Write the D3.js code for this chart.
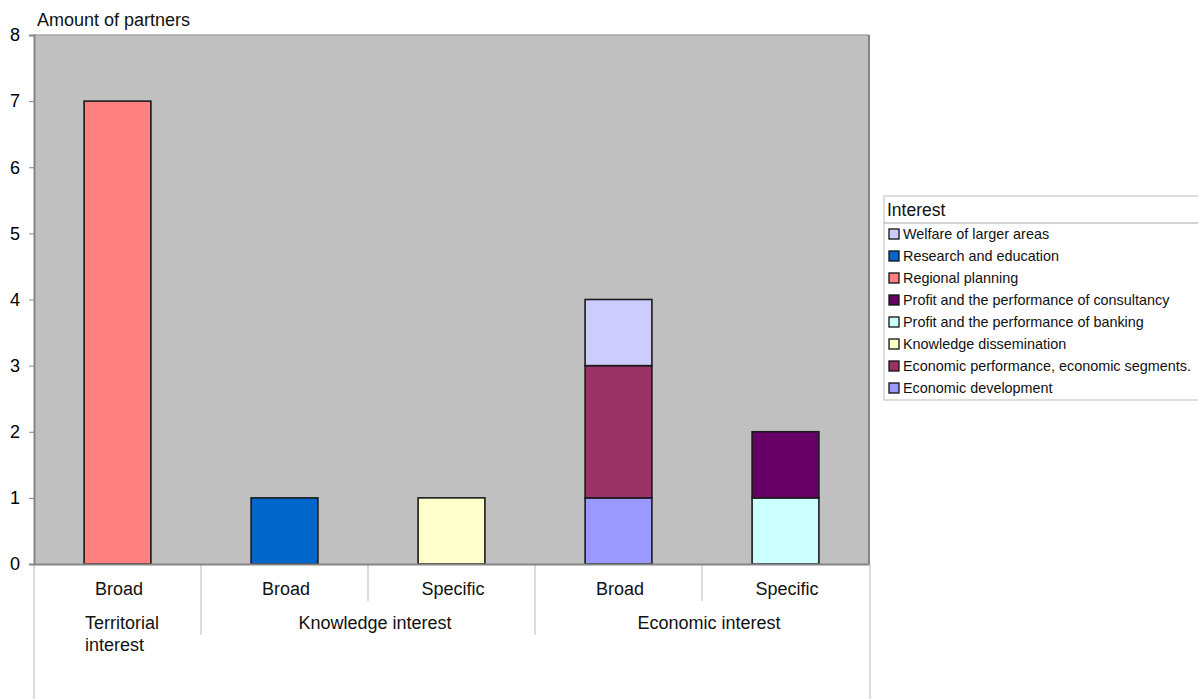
<!DOCTYPE html>
<html>
<head>
<meta charset="utf-8">
<script src="https://cdn.jsdelivr.net/npm/d3@7"></script>
<style>
  html, body { margin: 0; padding: 0; background: #fff; }
  svg { display: block; font-family: "Liberation Sans", Arial, sans-serif; }
</style>
</head>
<body>
<svg id="chart" width="1198" height="699"></svg>
<script>
// Sub-categories along the x axis, and the group each one belongs to
const categories = ["Broad", "Broad", "Specific", "Broad", "Specific"];
const groupNames = ["Territorial interest", "Knowledge interest", "Economic interest"];
const groupStart = [0, 1, 3];   // first sub-category index of each group
const groupSize  = [1, 2, 2];   // number of sub-categories in each group

// Series, bottom of stack first (legend lists them in reverse)
const seriesNames = [
  "Economic development",
  "Economic performance, economic segments.",
  "Knowledge dissemination",
  "Profit and the performance of banking",
  "Profit and the performance of consultancy",
  "Regional planning",
  "Research and education",
  "Welfare of larger areas"
];
const economicDevelopment    = [0, 0, 0, 1, 0];
const economicPerformance    = [0, 0, 0, 2, 0];
const knowledgeDissemination = [0, 0, 1, 0, 0];
const profitBanking          = [0, 0, 0, 0, 1];
const profitConsultancy      = [0, 0, 0, 0, 1];
const regionalPlanning       = [7, 0, 0, 0, 0];
const researchEducation      = [0, 1, 0, 0, 0];
const welfareLargerAreas     = [0, 0, 0, 1, 0];
const seriesColors = ["#9999FF", "#993366", "#FFFFCC", "#CCFFFF", "#660066", "#FF8080", "#0066CC", "#CCCCFF"];

const yTicks = [0, 1, 2, 3, 4, 5, 6, 7, 8];
const yTitle = "Amount of partners";
const legendTitle = "Interest";

const seriesValues = [economicDevelopment, economicPerformance, knowledgeDissemination,
  profitBanking, profitConsultancy, regionalPlanning, researchEducation, welfareLargerAreas];

// Table for d3.stack: one row per sub-category
const table = categories.map((c, i) => {
  const row = { idx: i };
  seriesNames.forEach((s, k) => { row[s] = seriesValues[k][i]; });
  return row;
});

const svg = d3.select("#chart");
const plot = { left: 34, right: 869, top: 35, bottom: 564 };

const x = d3.scaleBand()
  .domain(d3.range(categories.length))
  .range([plot.left, plot.right])
  .paddingInner(0).paddingOuter(0);

const y = d3.scaleLinear().domain([0, 8]).range([plot.bottom, plot.top]);

// Plot background
svg.append("rect")
  .attr("x", plot.left).attr("y", plot.top)
  .attr("width", plot.right - plot.left).attr("height", plot.bottom - plot.top)
  .attr("fill", "#C0C0C0");

// Plot frame (left, right, bottom darker; top lighter)
svg.append("line").attr("x1", plot.left).attr("x2", plot.right)
  .attr("y1", plot.top).attr("y2", plot.top)
  .attr("stroke", "#a8a8a8").attr("stroke-width", 1.5);
svg.append("line").attr("x1", plot.right).attr("x2", plot.right)
  .attr("y1", plot.top).attr("y2", plot.bottom)
  .attr("stroke", "#858585").attr("stroke-width", 2);

// Outer frame lines running under the category labels
svg.append("line").attr("x1", plot.left).attr("x2", plot.left)
  .attr("y1", plot.bottom).attr("y2", 699)
  .attr("stroke", "#cfcfcf").attr("stroke-width", 1.5);
svg.append("line").attr("x1", plot.right + 1).attr("x2", plot.right + 1)
  .attr("y1", plot.bottom).attr("y2", 699)
  .attr("stroke", "#cfcfcf").attr("stroke-width", 1.5);

// Separators between sub-categories (short) and groups (long)
const groupBounds = new Set(groupStart.slice(1));
d3.range(1, categories.length).forEach(i => {
  const xx = x(i);
  svg.append("line")
    .attr("x1", xx).attr("x2", xx)
    .attr("y1", plot.bottom).attr("y2", groupBounds.has(i) ? 635 : 601)
    .attr("stroke", "#d0d0d0").attr("stroke-width", 1.5);
});

// Stacked bars
const stack = d3.stack().keys(seriesNames);
const layers = stack(table);
const barW = x.bandwidth() * 0.4;

svg.append("g").selectAll("g")
  .data(layers)
  .join("g")
  .attr("fill", (d, i) => seriesColors[i])
  .selectAll("rect")
  .data(d => d.filter(p => p[1] - p[0] > 0))
  .join("rect")
  .attr("x", d => x(d.data.idx) + (x.bandwidth() - barW) / 2)
  .attr("y", d => y(d[1]))
  .attr("width", barW)
  .attr("height", d => y(d[0]) - y(d[1]))
  .attr("stroke", "#1a1a1a")
  .attr("stroke-width", 1.6);

// Y axis
const yAxis = d3.axisLeft(y).tickValues(yTicks).tickFormat(d3.format("d")).tickSize(5).tickPadding(9);
const gy = svg.append("g").attr("transform", `translate(${plot.left},0)`).call(yAxis);
gy.select(".domain").attr("stroke", "#858585").attr("stroke-width", 2);
gy.selectAll(".tick line").attr("stroke", "#858585");
gy.selectAll(".tick text").attr("font-size", 18).attr("fill", "#000")
  .attr("font-family", "Liberation Sans, Arial, sans-serif");

// X axis baseline
const xAxis = d3.axisBottom(x).tickSize(0).tickFormat(() => "");
const gx = svg.append("g").attr("transform", `translate(0,${plot.bottom})`).call(xAxis);
gx.select(".domain").attr("stroke", "#858585").attr("stroke-width", 2);

// Sub-category labels
svg.append("g").selectAll("text")
  .data(categories)
  .join("text")
  .attr("x", (d, i) => x(i) + x.bandwidth() / 2 + 1.5)
  .attr("y", 595)
  .attr("text-anchor", "middle")
  .attr("font-size", 18)
  .attr("fill", "#111")
  .text(d => d);

// Group labels
groupNames.forEach((g, k) => {
  const x0 = x(groupStart[k]);
  const x1 = x(groupStart[k] + groupSize[k] - 1) + x.bandwidth();
  const t = svg.append("text")
    .attr("font-size", 18).attr("fill", "#111");
  if (groupSize[k] === 1) {
    // narrow group: wrap onto two lines
    const words = g.split(" ");
    const tx = x0 + 51;
    t.attr("x", tx).attr("y", 629).attr("text-anchor", "start");
    t.append("tspan").attr("x", tx).attr("dy", 0).text(words[0]);
    t.append("tspan").attr("x", tx).attr("dy", 22).text(words.slice(1).join(" "));
  } else {
    t.attr("x", (x0 + x1) / 2 + 7).attr("y", 629).attr("text-anchor", "middle").text(g);
  }
});

// Y axis title
svg.append("text")
  .attr("x", 37).attr("y", 26)
  .attr("font-size", 18).attr("fill", "#111")
  .text(yTitle);

// Legend
const lg = svg.append("g").attr("transform", "translate(884,196)");
lg.append("rect").attr("x", 0).attr("y", 0).attr("width", 330).attr("height", 204)
  .attr("fill", "#fff").attr("stroke", "#c8c8c8").attr("stroke-width", 1.2);
lg.append("text").attr("x", 3).attr("y", 20).attr("font-size", 17.5).attr("fill", "#111").text(legendTitle);
lg.append("line").attr("x1", 0).attr("x2", 330).attr("y1", 27).attr("y2", 27)
  .attr("stroke", "#a8a8a8").attr("stroke-width", 1.2);

const legendOrder = d3.range(seriesNames.length).reverse();
const items = lg.selectAll("g.item")
  .data(legendOrder)
  .join("g")
  .attr("class", "item")
  .attr("transform", (d, j) => `translate(0,${38 + j * 22})`);
items.append("rect")
  .attr("x", 5).attr("y", -5).attr("width", 10).attr("height", 10)
  .attr("fill", d => seriesColors[d]).attr("stroke", "#111").attr("stroke-width", 1.3);
items.append("text")
  .attr("x", 19).attr("y", 5)
  .attr("font-size", 14.4).attr("fill", "#111")
  .text(d => seriesNames[d]);
</script>
</body>
</html>
